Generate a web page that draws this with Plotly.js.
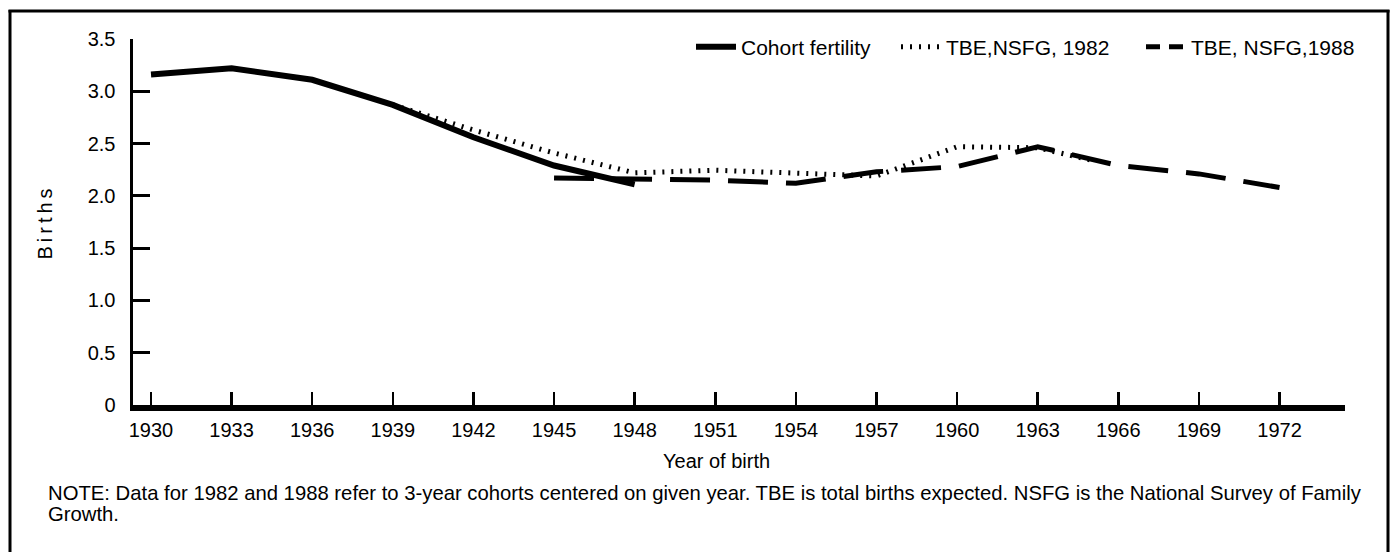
<!DOCTYPE html>
<html>
<head>
<meta charset="utf-8">
<script src="https://cdn.plot.ly/plotly-3.0.1.min.js"></script>
<style>html,body{margin:0;padding:0;background:#fff;}#chart{width:1392px;height:552px;}</style>
</head>
<body>
<div id="chart"></div>
<script>
// ---- data ----
const yearsCohort = [1930, 1933, 1936, 1939, 1942, 1945, 1948];
const cohortFertility = [3.16, 3.22, 3.11, 2.87, 2.56, 2.29, 2.11];

const years1982 = [1939, 1942, 1945, 1948, 1951, 1954, 1957, 1960, 1963, 1965];
const tbe1982 = [2.87, 2.63, 2.41, 2.22, 2.245, 2.22, 2.19, 2.47, 2.46, 2.34];

const years1988 = [1945, 1948, 1951, 1954, 1957, 1960, 1963, 1966, 1969, 1972];
const tbe1988 = [2.17, 2.16, 2.15, 2.12, 2.23, 2.28, 2.47, 2.29, 2.21, 2.08];

const xTickVals = [1930, 1933, 1936, 1939, 1942, 1945, 1948, 1951, 1954, 1957, 1960, 1963, 1966, 1969, 1972];
const yTickVals = [0, 0.5, 1.0, 1.5, 2.0, 2.5, 3.0, 3.5];
const yTickText = ['0', '0.5', '1.0', '1.5', '2.0', '2.5', '3.0', '3.5'];

const seriesNames = ['Cohort fertility', 'TBE,NSFG, 1982', 'TBE, NSFG,1988'];
const noteLine1 = 'NOTE: Data for 1982 and 1988 refer to 3-year cohorts centered on given year. TBE is total births expected. NSFG is the National Survey of Family';
const noteLine2 = 'Growth.';

// ---- geometry ----
const W = 1392, H = 552;
const L = 133, R = 1345, T = 39, B = 405.5;
const pw = R - L, ph = B - T;
const px = v => (v - L) / pw;
const py = v => (B - v) / ph;

const FONT = 'Liberation Sans, Arial, Helvetica, sans-serif';
const FS = 20;

const legendBase = {orientation: 'h', xanchor: 'left', yanchor: 'middle', y: py(47),
  font: {size: 21, family: FONT}, bgcolor: 'rgba(0,0,0,0)', itemwidth: 40, borderwidth: 0};

const traces = [
  {x: yearsCohort, y: cohortFertility, name: seriesNames[0], type: 'scatter', mode: 'lines',
   line: {color: '#000', width: 6}, legend: 'legend'},
  {x: years1982, y: tbe1982, name: seriesNames[1], type: 'scatter', mode: 'lines',
   line: {color: '#000', width: 5, dash: '2px,7px'}, legend: 'legend2'},
  {x: years1988, y: tbe1988, name: seriesNames[2], type: 'scatter', mode: 'lines',
   line: {color: '#000', width: 5, dash: '40px,18px'}, showlegend: false},
  // legend key for the 1988 series (shorter dash pattern so two dashes show in the key)
  {x: [null], y: [null], name: seriesNames[2], type: 'scatter', mode: 'lines',
   line: {color: '#000', width: 5, dash: '14px,9px'}, legend: 'legend3', hoverinfo: 'skip'}
];

const layout = {
  width: W, height: H,
  margin: {l: L, r: W - R, t: T, b: H - B, pad: 0},
  paper_bgcolor: '#fff', plot_bgcolor: '#fff',
  font: {family: FONT, color: '#000', size: FS},
  showlegend: true,
  legend: Object.assign({}, legendBase, {x: px(691)}),
  legend2: Object.assign({}, legendBase, {x: px(896)}),
  legend3: Object.assign({}, legendBase, {x: px(1141)}),
  xaxis: {
    range: [1930 - (151 - L) / 26.87, 1930 + (R - 151) / 26.87],
    tickmode: 'array', tickvals: xTickVals,
    ticks: 'inside', ticklen: 13, tickwidth: 2.5, tickcolor: '#000',
    showline: true, linecolor: '#000', linewidth: 6,
    showgrid: false, zeroline: false,
    tickfont: {size: FS, family: FONT}, ticklabelstandoff: 2,
    title: {text: ''}
  },
  yaxis: {
    range: [0, 3.5],
    tickmode: 'array', tickvals: yTickVals, ticktext: yTickText,
    ticks: 'inside', ticklen: 17, tickwidth: 3, tickcolor: '#000',
    showline: true, linecolor: '#000', linewidth: 3.5,
    showgrid: false, zeroline: false,
    tickfont: {size: FS, family: FONT}, ticklabelstandoff: 10,
    title: {text: 'Births', font: {size: FS, family: FONT}, standoff: 30}
  },
  annotations: [
    {text: 'Year of birth', xref: 'paper', yref: 'paper', x: px(716), y: py(462),
     xanchor: 'center', yanchor: 'middle', showarrow: false, font: {size: FS, family: FONT}},
    {text: noteLine1, xref: 'paper', yref: 'paper', x: px(46), y: py(493.5),
     xanchor: 'left', yanchor: 'middle', align: 'left', showarrow: false, font: {size: 20.3, family: FONT}},
    {text: noteLine2, xref: 'paper', yref: 'paper', x: px(46), y: py(514.5),
     xanchor: 'left', yanchor: 'middle', align: 'left', showarrow: false, font: {size: 20.3, family: FONT}}
  ],
  shapes: [
    {type: 'line', xref: 'paper', yref: 'paper', x0: px(10), x1: px(10), y0: py(10), y1: py(560), line: {color: '#000', width: 3}},
    {type: 'line', xref: 'paper', yref: 'paper', x0: px(1388), x1: px(1388), y0: py(10), y1: py(560), line: {color: '#000', width: 3}},
    {type: 'line', xref: 'paper', yref: 'paper', x0: px(8.5), x1: px(1389.5), y0: py(11), y1: py(11), line: {color: '#000', width: 3}}
  ]
};

Plotly.newPlot('chart', traces, layout, {displayModeBar: false, staticPlot: true}).then(gd => {
  const t = gd.querySelector('.ytitle');
  if (t) t.style.letterSpacing = '4px';
});
</script>
</body>
</html>
